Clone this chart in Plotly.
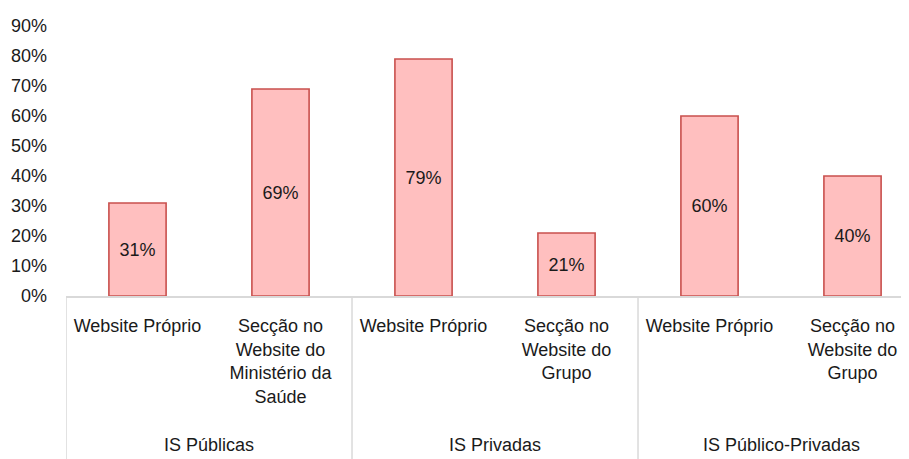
import plotly.graph_objects as go

group_names = ["IS Públicas", "IS Privadas", "IS Público-Privadas"]
subcats = ["Website Próprio", "Secção no<br>Website do<br>Ministério da<br>Saúde",
           "Website Próprio", "Secção no<br>Website do<br>Grupo",
           "Website Próprio", "Secção no<br>Website do<br>Grupo"]
values = [0.31, 0.69, 0.79, 0.21, 0.60, 0.40]
labels = ["31%", "69%", "79%", "21%", "60%", "40%"]
yticks = [0, 0.1, 0.2, 0.3, 0.4, 0.5, 0.6, 0.7, 0.8, 0.9]
yticklabels = ["0%", "10%", "20%", "30%", "40%", "50%", "60%", "70%", "80%", "90%"]

FONT = "Liberation Sans, Arial, sans-serif"
TXT = "#1a1a1a"
positions = list(range(len(values)))

fig = go.Figure(go.Bar(
    x=positions,
    y=values,
    text=labels,
    textposition="inside",
    insidetextanchor="middle",
    textangle=0,
    textfont=dict(family=FONT, size=18, color=TXT),
    marker=dict(color="#FFBFBF", line=dict(color="#C9504D", width=1.6)),
    width=0.4,
    hoverinfo="skip",
))

# category dividers (group boundaries)
for b in [-0.5, 1.5, 3.5]:
    fig.add_shape(type="line", xref="x", yref="paper", x0=b, x1=b, y0=0, y1=-0.7,
                  line=dict(color="#D9D9D9", width=1.5))

# group labels
for i, g in enumerate(group_names):
    fig.add_annotation(x=2 * i + 0.5, xref="x", y=-0.553, yref="paper",
                       text=g, showarrow=False, yanchor="middle",
                       font=dict(family=FONT, size=18, color=TXT))

fig.update_layout(
    width=901, height=451,
    margin=dict(l=58, r=0, t=18, b=163),
    paper_bgcolor="white", plot_bgcolor="white",
    showlegend=False,
    font=dict(family=FONT, size=18, color=TXT),
)
fig.update_yaxes(
    range=[0, 0.9], tickvals=yticks, ticktext=yticklabels,
    showgrid=False, showline=False, zeroline=False, ticks="",
    ticklabelstandoff=18,
    tickfont=dict(family=FONT, size=18, color=TXT),
)
fig.update_xaxes(
    range=[-0.5, 5.395],
    tickvals=positions, ticktext=subcats,
    showline=True, linecolor="#D9D9D9", linewidth=1.5,
    ticks="", showgrid=False, zeroline=False,
    ticklabelstandoff=13,
    tickfont=dict(family=FONT, size=18, color=TXT),
)

fig.write_html("out.html")
